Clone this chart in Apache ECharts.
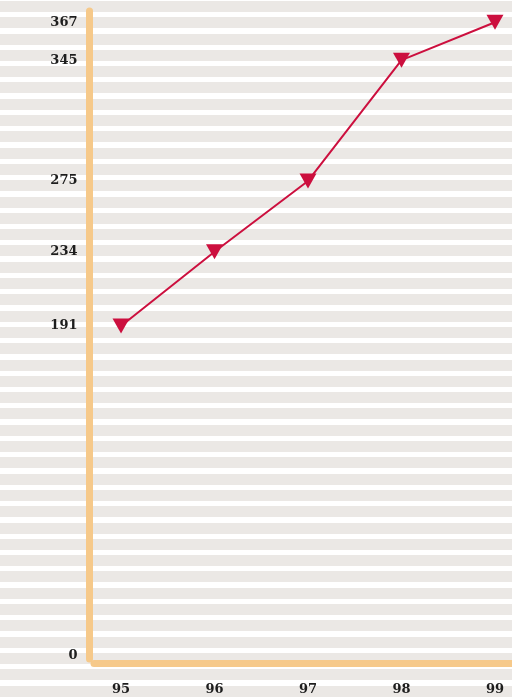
<!DOCTYPE html>
<html><head><meta charset="utf-8">
<script src="https://cdn.jsdelivr.net/npm/echarts@6/dist/echarts.min.js"></script>
<style>
html,body{margin:0;padding:0;}
html{background:repeating-linear-gradient(to bottom,#ebe8e5 0px,#ebe8e5 11px,#ffffff 11px,#ffffff 16.3px);background-position:0 1px;}
body{width:512px;height:698px;background:transparent;}
#chart{width:512px;height:698px;}
</style></head><body><div id="chart"></div>
<script>
const years = [95, 96, 97, 98, 99];
const values = [191, 234, 275, 345, 367];
const yTickLabels = [0, 191, 234, 275, 345, 367];
const xTickLabels = [95, 96, 97, 98, 99];

const orange = '#f6c98a';
const crimson = '#cc0f3e';
const labelStyle = {fontFamily: 'DejaVu Serif', fontWeight: 'bold', fontSize: 13, color: '#1e1e1e'};

const chart = echarts.init(document.getElementById('chart'), null, {renderer: 'canvas'});
chart.setOption({
  backgroundColor: 'transparent',
  animation: false,
  grid: {left: 94, right: 0, top: 11, bottom: 39, containLabel: false},
  xAxis: {
    type: 'value', min: 94.711, max: 99.182, offset: 4.5,
    axisLine: {show: true, onZero: false, lineStyle: {color: orange, width: 7}},
    axisTick: {show: false}, splitLine: {show: false},
    axisLabel: Object.assign({customValues: xTickLabels, margin: 20, formatter: v => String(v)}, labelStyle)
  },
  yAxis: {
    type: 'value', min: -2, max: 373.5, offset: 4.5,
    axisLine: {show: true, onZero: false, lineStyle: {color: orange, width: 7}},
    axisTick: {show: false}, splitLine: {show: false},
    axisLabel: Object.assign({customValues: yTickLabels, margin: 12, formatter: v => String(v)}, labelStyle)
  },
  series: [{
    type: 'line',
    data: years.map((y, i) => [y, values[i]]),
    symbol: 'triangle', symbolRotate: 180, symbolSize: [17, 15],
    itemStyle: {color: crimson},
    lineStyle: {color: crimson, width: 2},
    z: 5
  }]
});
</script></body></html>
